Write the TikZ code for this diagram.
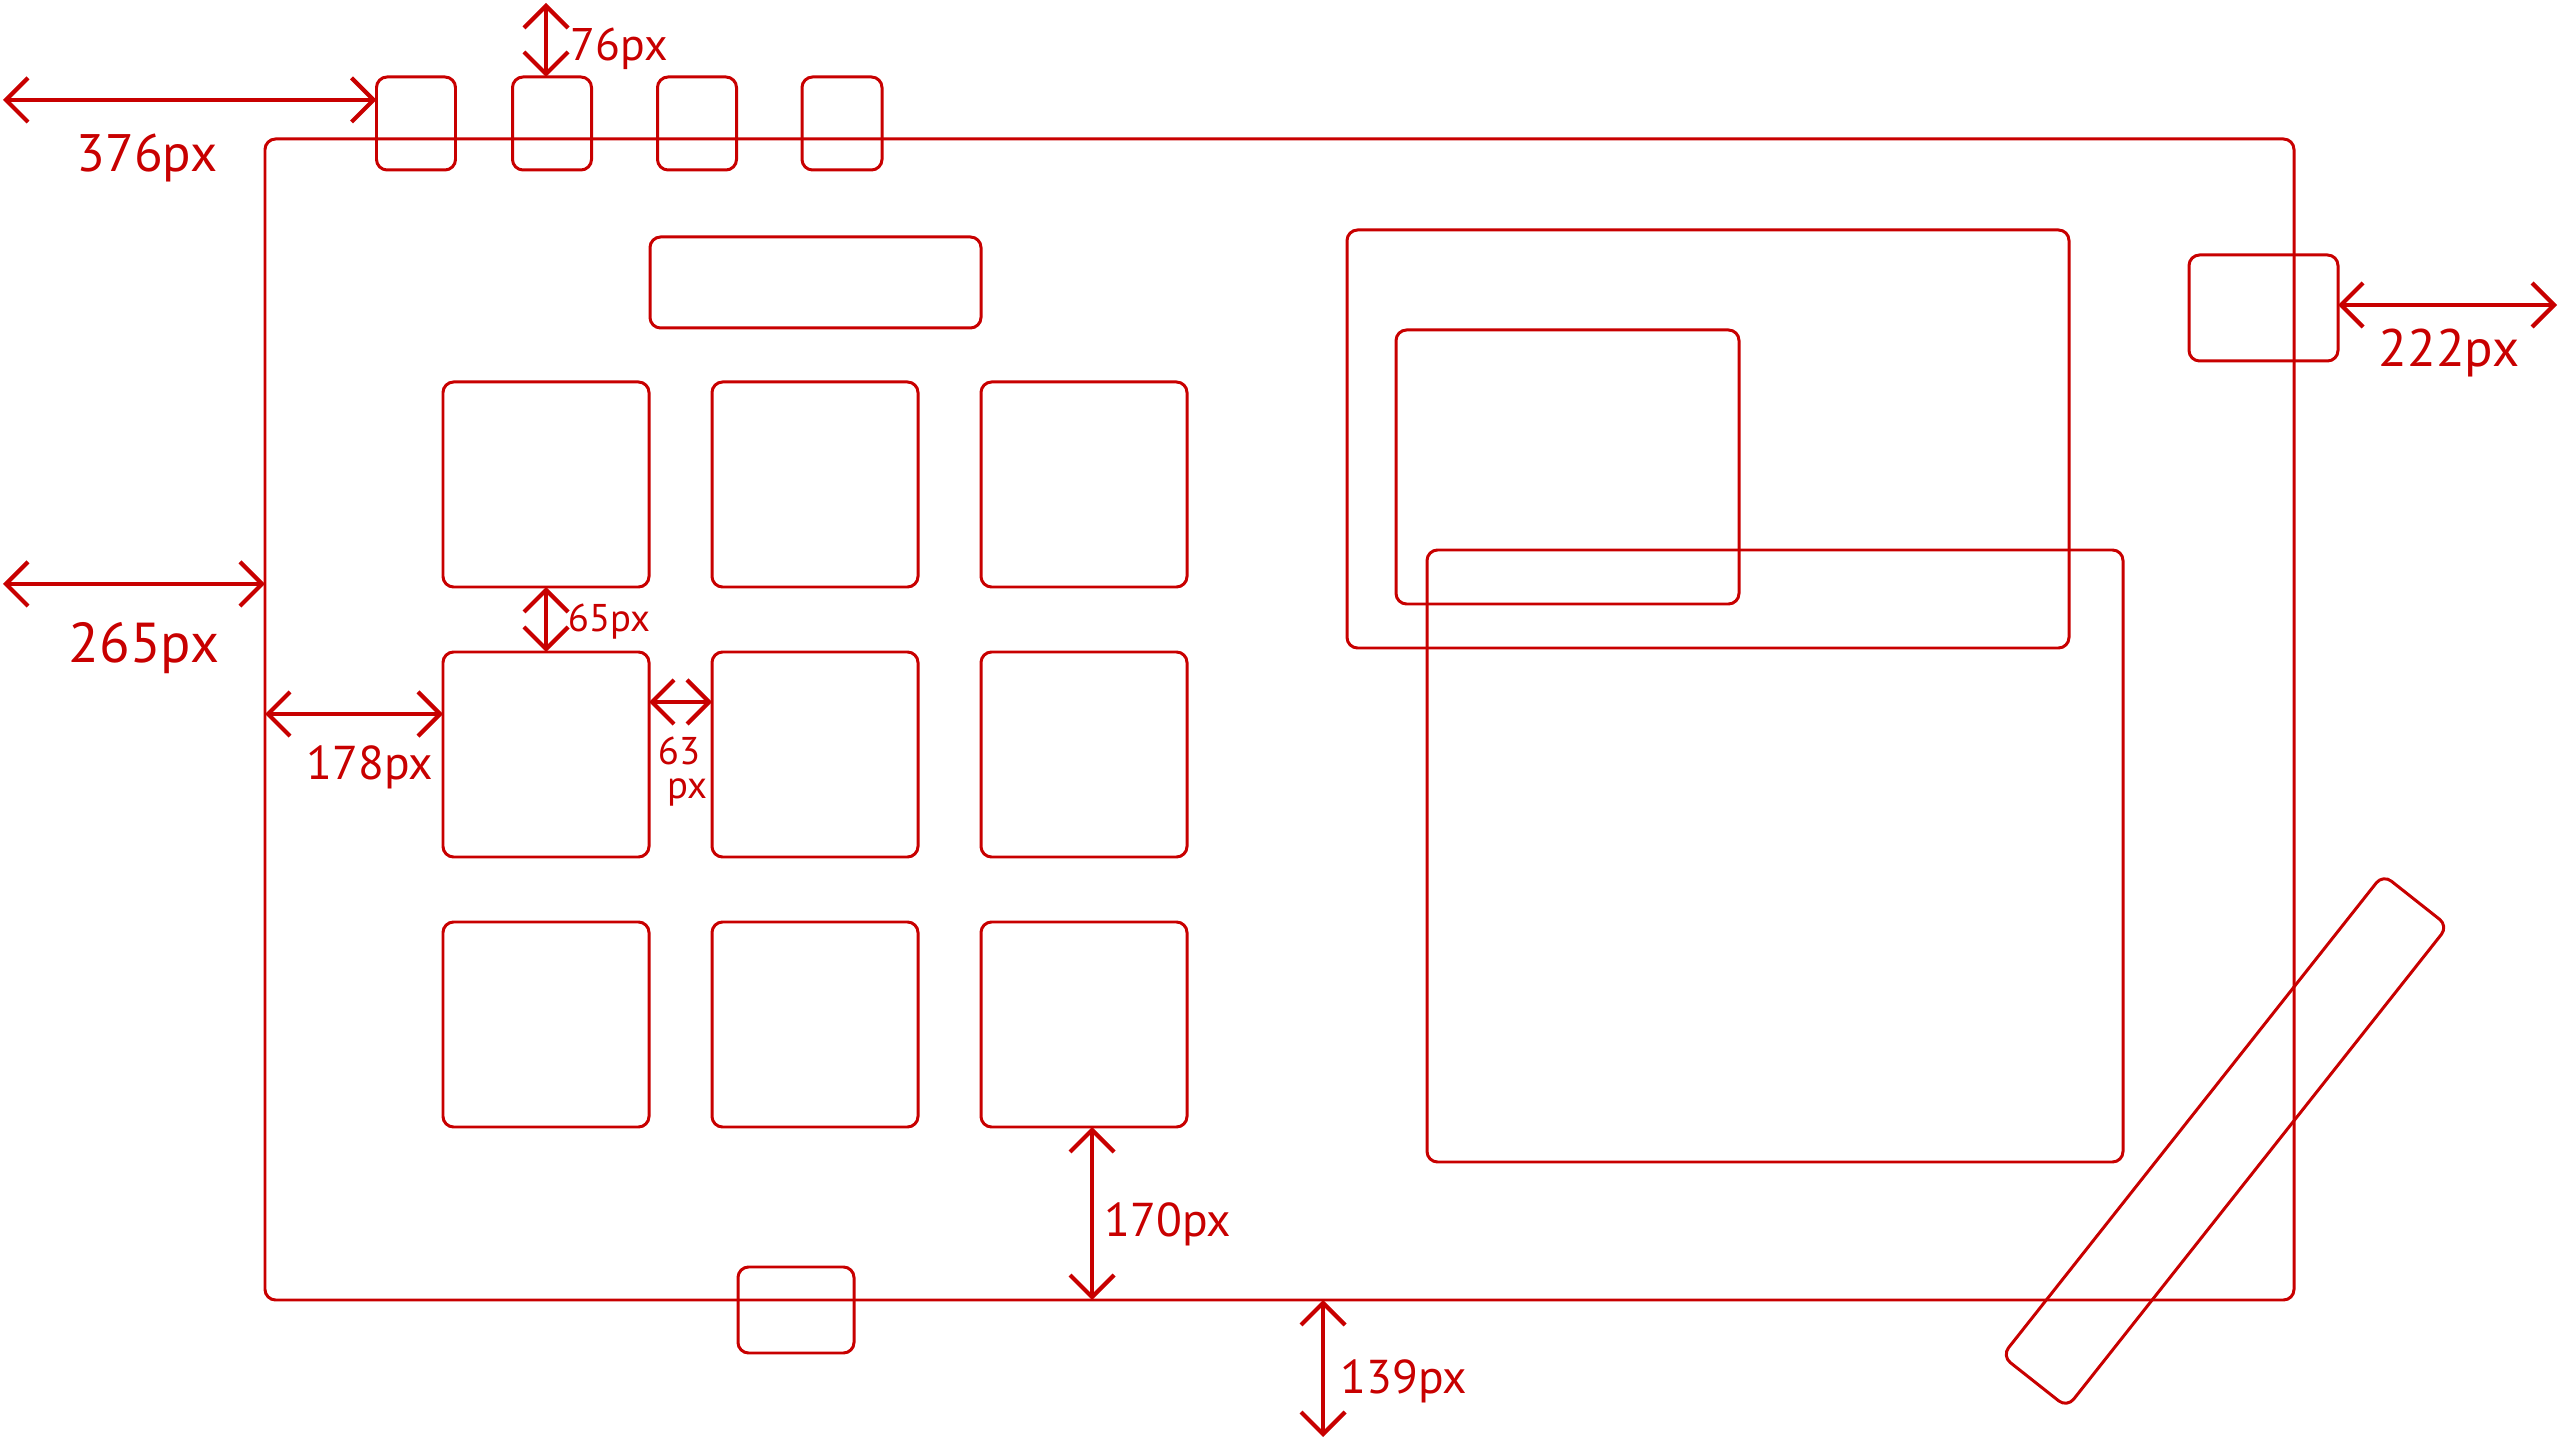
\documentclass[tikz,border=0pt]{standalone}
\usepackage{fontspec}
\setmainfont{PT Sans}
\usetikzlibrary{arrows.meta}
\definecolor{ink}{RGB}{200,0,0}
\tikzset{
  box/.style={draw=ink, line width=0.85pt, rounded corners=3pt, inner sep=0pt, outer sep=0pt},
  sz/.style 2 args={minimum width=#1*0.01cm, minimum height=#2*0.01cm},
  dim/.style={draw=ink, line width=1.2pt, line cap=round, {Straight Barb[length=2.2mm,width=4.4mm,line width=1.2pt]}-{Straight Barb[length=2.2mm,width=4.4mm,line width=1.2pt]}},
  lbl/.style={text=ink, inner sep=0pt, font=\fontsize{15}{15}\selectfont},
  mlbl/.style={text=ink, inner sep=0pt, font=\fontsize{13.5}{13.5}\selectfont},
  slbl/.style={text=ink, inner sep=0pt, font=\fontsize{11}{11}\selectfont}
}
\begin{document}
\begin{tikzpicture}[x=0.01cm, y=-0.01cm]
\useasboundingbox (0,0) rectangle (2560,1440);
% main frame
\node[box, sz={2029}{1161}] (frame) at (1279.5,719.5) {};
% top small boxes
\node[box, sz={79}{93}] (t1) at (416,123.5) {};
\node[box, sz={79}{93}] (t2) at (552,123.5) {};
\node[box, sz={79}{93}] (t3) at (697,123.5) {};
\node[box, sz={80}{93}] (t4) at (842,123.5) {};
% title box
\node[box, sz={331}{91}] (title) at (815.5,282.5) {};
% grid
\node[box, sz={206}{205}] (g11) at (546,484.5) {};
\node[box, sz={206}{205}] (g12) at (815,484.5) {};
\node[box, sz={206}{205}] (g13) at (1084,484.5) {};
\node[box, sz={206}{205}] (g21) at (546,754.5) {};
\node[box, sz={206}{205}] (g22) at (815,754.5) {};
\node[box, sz={206}{205}] (g23) at (1084,754.5) {};
\node[box, sz={206}{205}] (g31) at (546,1024.5) {};
\node[box, sz={206}{205}] (g32) at (815,1024.5) {};
\node[box, sz={206}{205}] (g33) at (1084,1024.5) {};
% bottom small box
\node[box, sz={116}{86}] (bot) at (796,1310) {};
% right boxes
\node[box, sz={722}{418}] (ba) at (1708,439) {};
\node[box, sz={343}{274}] (bb) at (1567.5,467) {};
\node[box, sz={696}{612}] (bc) at (1775,856) {};
\node[box, sz={149}{106}] (rs) at (2263.5,308) {};
% rotated bar
\node[box, sz={614}{83}, rotate=51.65] (bar) at (2225,1141) {};
% dimension arrows
\coordinate (e376) at (3,100);
\draw[dim] (e376) -- (e376 -| t1.west);
\node[lbl] (l376) at (147,158) {376px};
\coordinate (e76) at (546,3);
\draw[dim] (e76) -- (t2.north -| e76);
\node[lbl, font=\fontsize{13}{13}\selectfont] (l76) at (619,49) {76px};
\coordinate (e265) at (3,584);
\draw[dim] (e265) -- (e265 -| frame.west);
\node[lbl, font=\fontsize{16}{16}\selectfont] (l265) at (144,648) {265px};
\coordinate (y178) at (300,714);
\draw[dim] (frame.west |- y178) -- (g21.west |- y178);
\node[mlbl] (l178) at (370,767) {178px};
\draw[dim] (g11.south) -- (g21.north);
\node[slbl] (l65) at (609,622) {65px};
\coordinate (y63) at (680,702);
\draw[dim] (g21.east |- y63) -- (g22.west |- y63);
\node[slbl] (l63a) at (679,751) {63};
\node[slbl] (l63b) at (687,792) {px};
\coordinate (e222) at (2557,305);
\draw[dim] (rs.east |- e222) -- (e222);
\node[lbl] (l222) at (2449,353) {222px};
\coordinate (x170) at (1092,1200);
\draw[dim] (g33.south -| x170) -- (frame.south -| x170);
\node[mlbl] (l170) at (1168,1224) {170px};
\coordinate (e139) at (1323,1437);
\draw[dim] (frame.south -| e139) -- (e139);
\node[mlbl] (l139) at (1404,1381) {139px};
\end{tikzpicture}
\end{document}
